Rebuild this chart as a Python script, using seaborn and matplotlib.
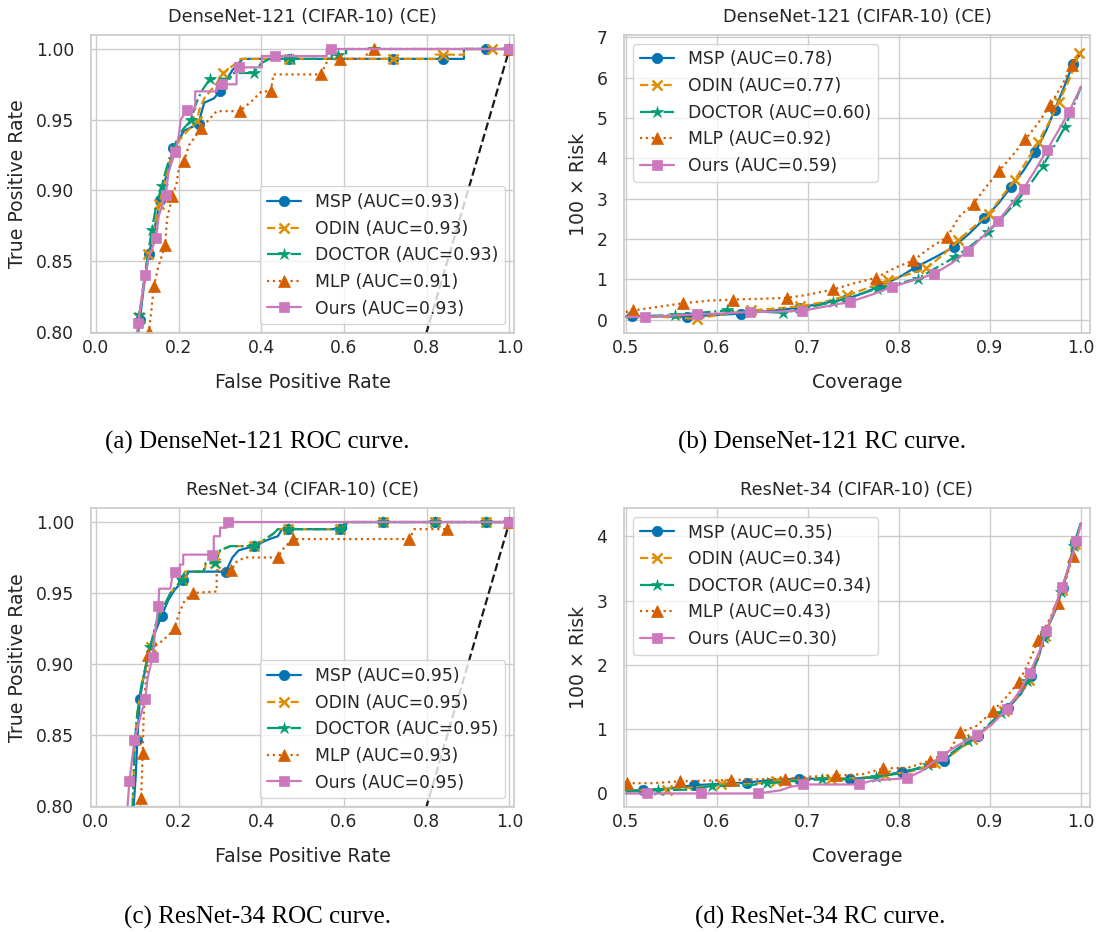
import matplotlib
matplotlib.use("Agg")
import matplotlib.pyplot as plt
import seaborn as sns
import numpy as np
import pandas as pd

sns.set_theme(style="whitegrid", palette="colorblind")
plt.rcParams["font.family"] = ["DejaVu Sans"]

METHODS = ["MSP", "ODIN", "DOCTOR", "MLP", "Ours"]

TITLES = ["DenseNet-121 (CIFAR-10) (CE)", "DenseNet-121 (CIFAR-10) (CE)",
          "ResNet-34 (CIFAR-10) (CE)", "ResNet-34 (CIFAR-10) (CE)"]
CAPTIONS = ["(a) DenseNet-121 ROC curve.", "(b) DenseNet-121 RC curve.",
            "(c) ResNet-34 ROC curve.", "(d) ResNet-34 RC curve."]

AUC_A = [0.93, 0.93, 0.93, 0.91, 0.93]
AUC_B = [0.78, 0.77, 0.60, 0.92, 0.59]
AUC_C = [0.95, 0.95, 0.95, 0.93, 0.95]
AUC_D = [0.35, 0.34, 0.34, 0.43, 0.30]

# ---- (a) DenseNet-121 ROC : (fpr, tpr, marker) ----
A_MSP = [(0.100, 0.795, 0), (0.106, 0.808, 1), (0.115, 0.830, 0), (0.128, 0.855, 1), (0.140, 0.870, 0),
         (0.155, 0.893, 1), (0.165, 0.905, 0), (0.175, 0.915, 0), (0.187, 0.930, 1), (0.200, 0.935, 0),
         (0.212, 0.942, 0), (0.248, 0.947, 1), (0.255, 0.955, 0), (0.262, 0.962, 0), (0.285, 0.965, 0),
         (0.300, 0.970, 1), (0.315, 0.978, 0), (0.330, 0.985, 0), (0.345, 0.990, 0), (0.355, 0.993, 0),
         (0.468, 0.993, 1), (0.719, 0.993, 1), (0.840, 0.993, 1), (0.890, 0.993, 0), (0.890, 1.000, 0),
         (0.944, 1.000, 1), (1.000, 1.000, 1)]
A_ODIN = [(0.100, 0.795, 0), (0.104, 0.810, 1), (0.115, 0.832, 0), (0.126, 0.855, 1), (0.140, 0.872, 0),
          (0.152, 0.890, 1), (0.165, 0.905, 0), (0.178, 0.920, 0), (0.190, 0.928, 1), (0.200, 0.935, 0),
          (0.215, 0.940, 0), (0.244, 0.949, 1), (0.250, 0.957, 0), (0.262, 0.965, 0), (0.290, 0.975, 0),
          (0.308, 0.983, 1), (0.330, 0.988, 0), (0.350, 0.993, 0), (0.468, 0.993, 1), (0.719, 0.993, 1),
          (0.820, 0.993, 0), (0.820, 0.996, 0), (0.840, 0.996, 1), (0.890, 0.996, 0), (0.890, 1.000, 0),
          (0.957, 1.000, 1), (1.000, 1.000, 1)]
A_DOCTOR = [(0.100, 0.795, 0), (0.105, 0.812, 1), (0.118, 0.840, 0), (0.135, 0.872, 1), (0.145, 0.888, 0),
            (0.159, 0.903, 1), (0.170, 0.915, 0), (0.180, 0.925, 0), (0.195, 0.935, 0), (0.210, 0.943, 0),
            (0.231, 0.950, 1), (0.240, 0.960, 0), (0.255, 0.970, 0), (0.276, 0.979, 1), (0.324, 0.979, 0),
            (0.330, 0.983, 0), (0.381, 0.983, 1), (0.400, 0.990, 0), (0.420, 0.993, 0), (0.471, 0.993, 1),
            (0.570, 0.993, 0), (0.570, 0.996, 0), (0.586, 0.996, 1), (0.605, 0.996, 0), (0.605, 1.000, 0),
            (0.673, 1.000, 1), (1.000, 1.000, 1)]
A_MLP = [(0.125, 0.790, 0), (0.128, 0.800, 1), (0.134, 0.815, 0), (0.140, 0.832, 1), (0.150, 0.845, 0),
         (0.167, 0.861, 1), (0.172, 0.880, 0), (0.185, 0.896, 1), (0.195, 0.905, 0), (0.200, 0.915, 0),
         (0.214, 0.921, 1), (0.225, 0.932, 0), (0.240, 0.938, 0), (0.254, 0.944, 1), (0.267, 0.948, 0),
         (0.292, 0.956, 0), (0.348, 0.956, 1), (0.380, 0.964, 0), (0.400, 0.970, 0), (0.423, 0.970, 1),
         (0.429, 0.982, 0), (0.544, 0.982, 1), (0.562, 0.993, 0), (0.589, 0.993, 1), (0.655, 0.993, 0),
         (0.655, 1.000, 0), (0.673, 1.000, 1), (1.000, 1.000, 1)]
A_OURS = [(0.098, 0.795, 0), (0.102, 0.806, 1), (0.110, 0.822, 0), (0.119, 0.840, 1), (0.127, 0.852, 0),
          (0.145, 0.866, 1), (0.152, 0.882, 0), (0.169, 0.897, 1), (0.175, 0.912, 0), (0.191, 0.927, 1),
          (0.200, 0.938, 0), (0.205, 0.950, 0), (0.221, 0.957, 1), (0.240, 0.957, 0), (0.240, 0.970, 0),
          (0.292, 0.970, 0), (0.292, 0.975, 0), (0.304, 0.975, 1), (0.340, 0.975, 0), (0.340, 0.987, 0),
          (0.347, 0.987, 1), (0.401, 0.987, 0), (0.401, 0.995, 0), (0.433, 0.995, 1), (0.558, 0.995, 0),
          (0.558, 1.000, 0), (0.568, 1.000, 1), (1.000, 1.000, 1)]

# ---- (b) DenseNet-121 RC : (coverage, 100*risk, marker) ----
B_MSP = [(0.500, 0.08, 0), (0.507, 0.08, 1), (0.540, 0.08, 0), (0.567, 0.07, 1), (0.600, 0.12, 0),
         (0.626, 0.15, 1), (0.660, 0.22, 0), (0.690, 0.30, 1), (0.720, 0.42, 0), (0.743, 0.52, 1),
         (0.760, 0.65, 0), (0.779, 0.83, 1), (0.800, 1.05, 0), (0.819, 1.31, 1), (0.840, 1.55, 0),
         (0.860, 1.80, 1), (0.878, 2.15, 0), (0.894, 2.51, 1), (0.910, 2.90, 0), (0.923, 3.29, 1),
         (0.937, 3.70, 0), (0.950, 4.16, 1), (0.962, 4.70, 0), (0.971, 5.20, 1), (0.982, 5.80, 0),
         (0.991, 6.34, 1), (1.000, 6.60, 0)]
B_ODIN = [(0.500, 0.06, 0), (0.540, 0.07, 0), (0.578, 0.02, 1), (0.610, 0.15, 0), (0.638, 0.23, 1),
          (0.665, 0.28, 0), (0.691, 0.33, 1), (0.720, 0.45, 0), (0.743, 0.60, 1), (0.765, 0.78, 0),
          (0.788, 0.98, 1), (0.810, 1.12, 0), (0.830, 1.27, 1), (0.848, 1.60, 0), (0.865, 1.97, 1),
          (0.882, 2.30, 0), (0.899, 2.63, 1), (0.913, 3.05, 0), (0.927, 3.46, 1), (0.940, 3.92, 0),
          (0.953, 4.41, 1), (0.965, 4.90, 0), (0.976, 5.41, 1), (0.988, 6.00, 0), (0.998, 6.61, 1),
          (1.000, 6.66, 0)]
B_DOCTOR = [(0.500, 0.08, 0), (0.530, 0.10, 0), (0.554, 0.11, 1), (0.585, 0.18, 0), (0.611, 0.23, 1),
            (0.645, 0.20, 0), (0.673, 0.17, 1), (0.700, 0.30, 0), (0.728, 0.44, 1), (0.752, 0.60, 0),
            (0.776, 0.77, 1), (0.800, 0.90, 0), (0.821, 1.02, 1), (0.842, 1.30, 0), (0.862, 1.56, 1),
            (0.880, 1.85, 0), (0.898, 2.18, 1), (0.914, 2.55, 0), (0.929, 2.92, 1), (0.944, 3.35, 0),
            (0.958, 3.81, 1), (0.970, 4.28, 0), (0.982, 4.77, 1), (0.992, 5.30, 0), (1.000, 5.78, 0)]
B_MLP = [(0.500, 0.19, 0), (0.508, 0.23, 1), (0.530, 0.30, 0), (0.563, 0.41, 1), (0.590, 0.47, 0),
         (0.618, 0.50, 1), (0.650, 0.52, 0), (0.677, 0.54, 1), (0.700, 0.62, 0), (0.728, 0.75, 1),
         (0.750, 0.90, 0), (0.775, 1.04, 1), (0.797, 1.30, 0), (0.816, 1.47, 1), (0.835, 1.80, 0),
         (0.853, 2.05, 1), (0.866, 2.55, 0), (0.882, 2.88, 1), (0.896, 3.30, 0), (0.910, 3.69, 1),
         (0.925, 4.08, 0), (0.939, 4.47, 1), (0.954, 4.91, 0), (0.966, 5.32, 1), (0.980, 5.85, 0),
         (0.990, 6.32, 1), (1.000, 6.65, 0)]
B_OURS = [(0.500, 0.07, 0), (0.521, 0.07, 1), (0.550, 0.10, 0), (0.578, 0.13, 1), (0.610, 0.16, 0),
          (0.636, 0.19, 1), (0.665, 0.20, 0), (0.694, 0.22, 1), (0.720, 0.33, 0), (0.746, 0.44, 1),
          (0.770, 0.62, 0), (0.792, 0.81, 1), (0.815, 0.97, 0), (0.838, 1.13, 1), (0.858, 1.40, 0),
          (0.876, 1.71, 1), (0.893, 2.08, 0), (0.909, 2.45, 1), (0.923, 2.85, 0), (0.937, 3.25, 1),
          (0.950, 3.72, 0), (0.963, 4.22, 1), (0.975, 4.68, 0), (0.987, 5.16, 1), (1.000, 5.78, 0)]

# ---- (c) ResNet-34 ROC ----
C_MSP = [(0.090, 0.795, 0), (0.096, 0.820, 0), (0.100, 0.846, 1), (0.106, 0.875, 1), (0.115, 0.890, 0),
         (0.125, 0.905, 0), (0.140, 0.920, 0), (0.159, 0.934, 1), (0.175, 0.945, 0), (0.190, 0.952, 0),
         (0.211, 0.959, 1), (0.225, 0.965, 0), (0.314, 0.965, 1), (0.330, 0.975, 0), (0.345, 0.980, 0),
         (0.381, 0.983, 1), (0.420, 0.988, 0), (0.440, 0.990, 0), (0.450, 0.995, 0), (0.465, 0.995, 1),
         (0.590, 0.995, 1), (0.605, 0.995, 0), (0.605, 1.000, 0), (0.694, 1.000, 1), (0.820, 1.000, 1),
         (0.944, 1.000, 1), (1.000, 1.000, 1)]
C_ODIN = [(0.088, 0.795, 0), (0.094, 0.846, 1), (0.100, 0.865, 0), (0.110, 0.885, 0), (0.132, 0.912, 1),
          (0.145, 0.928, 0), (0.160, 0.938, 0), (0.180, 0.950, 0), (0.208, 0.959, 1), (0.215, 0.965, 0),
          (0.262, 0.965, 0), (0.266, 0.971, 0), (0.289, 0.971, 1), (0.300, 0.980, 0), (0.325, 0.983, 0),
          (0.381, 0.983, 1), (0.410, 0.988, 0), (0.430, 0.992, 0), (0.440, 0.995, 0), (0.465, 0.995, 1),
          (0.590, 0.995, 1), (0.600, 0.995, 0), (0.600, 1.000, 0), (0.694, 1.000, 1), (0.820, 1.000, 1),
          (0.944, 1.000, 1), (1.000, 1.000, 1)]
C_DOCTOR = [(0.088, 0.795, 0), (0.094, 0.846, 1), (0.100, 0.865, 0), (0.110, 0.885, 0), (0.131, 0.912, 1),
            (0.145, 0.928, 0), (0.160, 0.938, 0), (0.180, 0.950, 0), (0.207, 0.959, 1), (0.215, 0.965, 0),
            (0.260, 0.965, 0), (0.265, 0.971, 0), (0.288, 0.971, 1), (0.300, 0.980, 0), (0.325, 0.983, 0),
            (0.381, 0.983, 1), (0.410, 0.988, 0), (0.430, 0.992, 0), (0.440, 0.995, 0), (0.465, 0.995, 1),
            (0.590, 0.995, 1), (0.600, 0.995, 0), (0.600, 1.000, 0), (0.694, 1.000, 1), (0.820, 1.000, 1),
            (0.944, 1.000, 1), (1.000, 1.000, 1)]
C_MLP = [(0.107, 0.790, 0), (0.109, 0.805, 1), (0.111, 0.820, 0), (0.113, 0.837, 1), (0.115, 0.860, 0),
         (0.118, 0.880, 0), (0.127, 0.906, 1), (0.140, 0.912, 0), (0.155, 0.915, 0), (0.175, 0.920, 0),
         (0.191, 0.925, 1), (0.200, 0.935, 0), (0.215, 0.945, 0), (0.235, 0.950, 1), (0.292, 0.951, 0),
         (0.292, 0.966, 0), (0.327, 0.966, 1), (0.340, 0.972, 0), (0.360, 0.975, 0), (0.440, 0.975, 1),
         (0.455, 0.982, 0), (0.477, 0.988, 1), (0.758, 0.988, 1), (0.770, 0.995, 0), (0.848, 0.995, 1),
         (0.860, 1.000, 0), (1.000, 1.000, 1)]
C_OURS = [(0.075, 0.795, 0), (0.081, 0.817, 1), (0.087, 0.832, 0), (0.093, 0.846, 1), (0.105, 0.860, 0),
          (0.119, 0.875, 1), (0.125, 0.890, 0), (0.137, 0.905, 1), (0.143, 0.922, 0), (0.151, 0.941, 1),
          (0.153, 0.953, 0), (0.180, 0.953, 0), (0.185, 0.962, 0), (0.191, 0.965, 1), (0.203, 0.965, 0),
          (0.203, 0.970, 0), (0.211, 0.970, 0), (0.211, 0.977, 0), (0.280, 0.977, 1), (0.285, 0.977, 0),
          (0.285, 0.990, 0), (0.300, 0.990, 0), (0.300, 0.996, 0), (0.316, 0.996, 0), (0.316, 1.000, 0),
          (0.320, 1.000, 1), (1.000, 1.000, 1)]

# ---- (d) ResNet-34 RC ----
D_MSP = [(0.500, 0.05, 0), (0.519, 0.05, 1), (0.550, 0.08, 0), (0.575, 0.13, 1), (0.605, 0.15, 0),
         (0.633, 0.17, 1), (0.660, 0.21, 0), (0.690, 0.23, 1), (0.720, 0.23, 0), (0.746, 0.23, 1),
         (0.775, 0.25, 0), (0.803, 0.34, 1), (0.828, 0.40, 0), (0.849, 0.51, 1), (0.868, 0.72, 0),
         (0.887, 0.90, 1), (0.904, 1.12, 0), (0.920, 1.33, 1), (0.934, 1.55, 0), (0.945, 1.82, 1),
         (0.954, 2.15, 0), (0.961, 2.50, 1), (0.972, 2.85, 0), (0.980, 3.20, 1), (0.987, 3.55, 0),
         (0.993, 3.91, 1), (1.000, 4.20, 0)]
D_ODIN = [(0.500, 0.04, 0), (0.520, 0.05, 0), (0.545, 0.06, 1), (0.580, 0.10, 0), (0.605, 0.14, 1),
          (0.640, 0.15, 0), (0.665, 0.19, 1), (0.700, 0.22, 0), (0.725, 0.23, 1), (0.755, 0.24, 0),
          (0.785, 0.28, 1), (0.815, 0.35, 0), (0.840, 0.47, 1), (0.860, 0.62, 0), (0.880, 0.84, 1),
          (0.900, 1.05, 0), (0.915, 1.28, 1), (0.930, 1.50, 0), (0.943, 1.77, 1), (0.953, 2.10, 0),
          (0.960, 2.45, 1), (0.970, 2.80, 0), (0.979, 3.17, 1), (0.986, 3.50, 0), (0.993, 3.88, 1),
          (1.000, 4.18, 0)]
D_DOCTOR = [(0.500, 0.03, 0), (0.535, 0.05, 1), (0.570, 0.06, 0), (0.595, 0.12, 1), (0.630, 0.12, 0),
            (0.655, 0.16, 1), (0.690, 0.20, 0), (0.715, 0.22, 1), (0.745, 0.22, 0), (0.775, 0.26, 1),
            (0.805, 0.32, 0), (0.832, 0.45, 1), (0.855, 0.60, 0), (0.876, 0.82, 1), (0.897, 1.05, 0),
            (0.912, 1.25, 1), (0.928, 1.48, 0), (0.941, 1.75, 1), (0.952, 2.08, 0), (0.959, 2.42, 1),
            (0.969, 2.78, 0), (0.978, 3.14, 1), (0.986, 3.48, 0), (0.992, 3.85, 1), (1.000, 4.22, 0)]
D_MLP = [(0.501, 0.16, 1), (0.530, 0.16, 0), (0.559, 0.19, 1), (0.590, 0.20, 0), (0.616, 0.21, 1),
         (0.645, 0.22, 0), (0.675, 0.23, 1), (0.700, 0.26, 0), (0.731, 0.28, 1), (0.760, 0.30, 0),
         (0.783, 0.39, 1), (0.810, 0.40, 0), (0.834, 0.51, 1), (0.855, 0.65, 0), (0.867, 0.95, 1),
         (0.885, 1.05, 0), (0.903, 1.28, 1), (0.918, 1.50, 0), (0.932, 1.74, 1), (0.943, 2.05, 0),
         (0.953, 2.38, 1), (0.965, 2.70, 0), (0.975, 2.97, 1), (0.984, 3.35, 0), (0.991, 3.70, 1),
         (1.000, 4.00, 0)]
D_OURS = [(0.500, 0.00, 0), (0.523, 0.00, 1), (0.555, 0.00, 0), (0.583, 0.00, 1), (0.615, 0.00, 0),
          (0.645, 0.00, 1), (0.670, 0.05, 0), (0.680, 0.10, 0), (0.695, 0.14, 1), (0.725, 0.14, 0),
          (0.756, 0.14, 1), (0.770, 0.20, 0), (0.790, 0.22, 0), (0.809, 0.24, 1), (0.825, 0.35, 0),
          (0.847, 0.59, 1), (0.865, 0.75, 0), (0.886, 0.91, 1), (0.904, 1.10, 0), (0.919, 1.32, 1),
          (0.932, 1.58, 0), (0.944, 1.88, 1), (0.954, 2.20, 0), (0.962, 2.52, 1), (0.971, 2.88, 0),
          (0.979, 3.21, 1), (0.988, 3.58, 0), (0.995, 3.93, 1), (1.000, 4.20, 0)]

PAL = sns.color_palette("colorblind")
STYLE = {
    "MSP": dict(color=PAL[0], linestyle="-", marker="o", ms=7.5, mew=0.5),
    "ODIN": dict(color=PAL[1], linestyle="--", marker="x", ms=7.5, mew=1.8),
    "DOCTOR": dict(color=PAL[2], linestyle="-.", marker="*", ms=9, mew=0.5),
    "MLP": dict(color=PAL[3], linestyle=":", marker="^", ms=8, mew=0.5),
    "Ours": dict(color=PAL[4], linestyle="-", marker="s", ms=7.5, mew=0.5),
}

TICK_FS = 12.3
LABEL_FS = 13.6
TITLE_FS = 12.8
LEGEND_FS = 12.4

W, H = 1101, 932
fig = plt.figure(figsize=(W / 100, H / 100), dpi=100)


def px_axes(left, top, right, bottom):
    return fig.add_axes([left / W, 1 - bottom / H, (right - left) / W, (bottom - top) / H])


ax_a = px_axes(91, 35, 514, 333)
ax_b = px_axes(624, 35, 1090, 333)
ax_c = px_axes(91, 508, 514, 807)
ax_d = px_axes(624, 508, 1090, 807)


def draw(ax, curves, aucs, roc):
    if roc:
        sns.lineplot(x=[0.0, 1.0], y=[0.0, 1.0], color="k", linestyle="--", linewidth=1.6, ax=ax)
    for name, pts, auc in zip(METHODS, curves, aucs):
        df = pd.DataFrame(pts, columns=["x", "y", "m"])
        idx = [int(i) for i in np.flatnonzero(df["m"].values)]
        st = STYLE[name]
        sns.lineplot(data=df, x="x", y="y", sort=False, estimator=None, ax=ax,
                     color=st["color"], linestyle=st["linestyle"], linewidth=1.6,
                     marker=st["marker"], markersize=st["ms"], markevery=idx,
                     markeredgecolor=st["color"], markeredgewidth=st["mew"],
                     label=f"{name} (AUC={auc:.2f})")


draw(ax_a, [A_MSP, A_ODIN, A_DOCTOR, A_MLP, A_OURS], AUC_A, True)
draw(ax_b, [B_MSP, B_ODIN, B_DOCTOR, B_MLP, B_OURS], AUC_B, False)
draw(ax_c, [C_MSP, C_ODIN, C_DOCTOR, C_MLP, C_OURS], AUC_C, True)
draw(ax_d, [D_MSP, D_ODIN, D_DOCTOR, D_MLP, D_OURS], AUC_D, False)

for ax, title in zip([ax_a, ax_b, ax_c, ax_d], TITLES):
    ax.set_title(title, fontsize=TITLE_FS, y=1 + 17.5 / 298, va="center", pad=0)
    ax.tick_params(axis="both", labelsize=TICK_FS, length=0)
    ax.tick_params(axis="y", pad=12)
    ax.tick_params(axis="x", pad=4)
    for s in ax.spines.values():
        s.set_edgecolor("0.8")

for ax in [ax_a, ax_c]:
    ax.set_xlim(-0.012, 1.011)
    ax.set_ylim(0.799, 1.0099)
    ax.set_xticks([0.0, 0.2, 0.4, 0.6, 0.8, 1.0])
    ax.set_xticklabels(["0.0", "0.2", "0.4", "0.6", "0.8", "1.0"])
    ax.set_yticks([0.80, 0.85, 0.90, 0.95, 1.00])
    ax.set_yticklabels(["0.80", "0.85", "0.90", "0.95", "1.00"])
    ax.set_xlabel("False Positive Rate", fontsize=LABEL_FS)
    ax.set_ylabel("True Positive Rate", fontsize=LABEL_FS)
    ax.xaxis.set_label_coords(0.5, (333 - 382) / 298)
    ax.xaxis.label.set_va("center")
    ax.yaxis.set_label_coords((18 - 91) / 423, 0.5)
    ax.yaxis.label.set_va("center")
    ax.legend(loc="lower right", fontsize=LEGEND_FS, edgecolor="0.8")

for ax, ylim, yt in [(ax_b, (-0.33, 7.06), [0, 1, 2, 3, 4, 5, 6, 7]),
                     (ax_d, (-0.21, 4.44), [0, 1, 2, 3, 4])]:
    ax.set_xlim(0.498, 1.0099)
    ax.set_ylim(*ylim)
    ax.set_xticks([0.5, 0.6, 0.7, 0.8, 0.9, 1.0])
    ax.set_xticklabels(["0.5", "0.6", "0.7", "0.8", "0.9", "1.0"])
    ax.set_yticks(yt)
    ax.set_yticklabels([str(v) for v in yt])
    ax.set_xlabel("Coverage", fontsize=LABEL_FS)
    ax.set_ylabel("100 × Risk", fontsize=LABEL_FS)
    ax.xaxis.set_label_coords(0.5, (333 - 382) / 298)
    ax.xaxis.label.set_va("center")
    ax.yaxis.set_label_coords((578 - 624) / 466, 0.5)
    ax.yaxis.label.set_va("center")
    ax.legend(loc="upper left", fontsize=LEGEND_FS, edgecolor="0.8")

for (cx, cy), text in zip([(257, 442), (822, 442), (257, 917), (820, 917)], CAPTIONS):
    fig.text(cx / W, 1 - cy / H, text, ha="center", va="center",
             fontsize=18, family=["Liberation Serif", "DejaVu Serif"], color="black")

fig.savefig("out.png", dpi=100)
